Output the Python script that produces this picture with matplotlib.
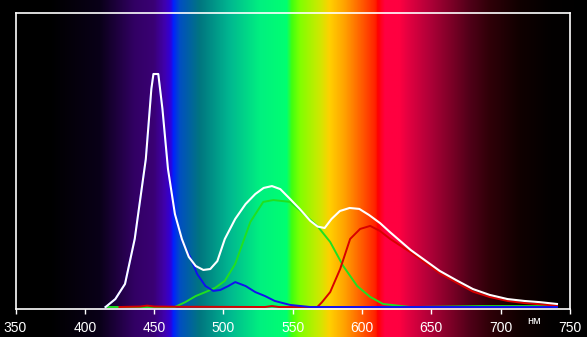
import numpy as np
import matplotlib
matplotlib.use("Agg")
import matplotlib.pyplot as plt
from matplotlib.colors import LinearSegmentedColormap

# spectrum: wavelength (nm) -> relative intensity
white_nm = [415, 422, 429, 436, 444, 448, 449.5, 453, 456, 460, 465, 470, 475, 480,
            485.5, 490.5, 495.6, 501, 508.5, 516, 523, 529, 535, 541, 548, 555,
            562.6, 568, 573, 578, 584, 591, 598, 605, 613, 620, 635, 649, 656,
            668, 680, 692, 705, 717, 728, 740.6]
white_val = [0, 0.034, 0.099, 0.292, 0.635, 0.936, 1.0, 1.0, 0.850, 0.592, 0.399,
             0.292, 0.215, 0.176, 0.159, 0.163, 0.197, 0.292, 0.378, 0.442, 0.485,
             0.511, 0.519, 0.506, 0.464, 0.421, 0.370, 0.345, 0.339, 0.378, 0.412,
             0.425, 0.421, 0.395, 0.360, 0.322, 0.245, 0.185, 0.155, 0.115, 0.077,
             0.052, 0.034, 0.026, 0.021, 0.013]

blue_nm = [415, 422, 429, 436, 444, 448, 449.5, 453, 456, 460, 465, 470, 476, 481,
           487, 492.7, 497.7, 503.5, 508.5, 516, 523, 530, 537, 548, 562.6, 740.6]
blue_val = [0, 0.034, 0.099, 0.292, 0.635, 0.936, 1.0, 1.0, 0.850, 0.592, 0.399,
            0.285, 0.215, 0.142, 0.090, 0.069, 0.073, 0.090, 0.107, 0.090, 0.064,
            0.047, 0.026, 0.009, 0, 0]

green_nm = [415, 465, 472.5, 480, 487, 494, 501, 508.5, 519.4, 528.7, 536, 548.2,
            567.7, 577, 586.4, 596.5, 605.9, 615.2, 634.7, 640, 685, 740.6]
green_val = [0, 0, 0.021, 0.047, 0.064, 0.082, 0.112, 0.185, 0.365, 0.451, 0.459,
             0.451, 0.348, 0.279, 0.176, 0.090, 0.043, 0.013, 0, 0, 0.004, 0.004]

red_nm = [425, 440, 445, 450, 470, 530, 535, 540, 567.7, 571, 577, 584.2, 591.4,
          598.6, 605.9, 613, 620.3, 634.7, 649, 656, 668, 680, 692, 705, 717, 728,
          740.6]
red_val = [0, 0.002, 0.006, 0.002, 0.001, 0, 0.004, 0, 0, 0.02, 0.064, 0.163,
           0.292, 0.335, 0.348, 0.326, 0.292, 0.236, 0.175, 0.145, 0.105, 0.066,
           0.043, 0.026, 0.017, 0.012, 0.006]

ticks = [350, 400, 450, 500, 550, 600, 650, 700, 750]

# background rainbow: (nm, colour)
bg_stops = [(339.2, "#000000"), (375, "#000000"), (411, "#0a0018"), (436, "#320064"),
            (450, "#3a0074"), (458, "#4000b0"), (462, "#3000d8"), (464, "#0020ff"),
            (469, "#0050c0"), (483, "#007580"), (505, "#00b890"), (526.6, "#00f080"),
            (546, "#00ff70"), (549.6, "#40ff10"), (555.4, "#80ff00"), (570, "#d0e800"),
            (577, "#ffd000"), (588, "#ffa000"), (602, "#ff5000"), (610, "#ff2000"),
            (611.6, "#ff0000"), (616.7, "#ff0040"), (627, "#ff0040"), (634.7, "#e00040"),
            (649, "#b00038"), (663.5, "#800028"), (678, "#500018"), (692, "#300008"),
            (714, "#100000"), (736, "#030000"), (762.3, "#000000")]

W, H = 587, 337
fig = plt.figure(figsize=(W / 100, H / 100), dpi=100)
fig.patch.set_facecolor("black")

lo, hi = bg_stops[0][0], bg_stops[-1][0]
cmap = LinearSegmentedColormap.from_list(
    "spec", [((n - lo) / (hi - lo), c) for n, c in bg_stops], N=1024)
bg = fig.add_axes([0, 0, 1, 1])
bg.imshow(np.linspace(0, 1, 1200)[None, :], cmap=cmap, aspect="auto",
          extent=[lo, hi, 0, 1], interpolation="bilinear")
bg.axis("off")

ax = fig.add_axes([15.5 / W, 1 - 309 / H, (570 - 15.5) / W, (309 - 12.5) / H])
ax.set_facecolor("none")
ax.plot(green_nm, green_val, color="#20e020", lw=1.4)
ax.plot(red_nm, red_val, color="#d80000", lw=1.4)
ax.plot(blue_nm, blue_val, color="#1010f0", lw=1.4)
ax.plot(white_nm, white_val, color="white", lw=1.5)

ax.set_xlim(350, 750)
ax.set_ylim(-2 / 233, 294.5 / 233)
ax.set_xticks(ticks)
ax.set_yticks([])
for s in ax.spines.values():
    s.set_color("white")
    s.set_linewidth(1.2)
ax.tick_params(axis="x", colors="white", length=3.5, width=1, pad=5, labelsize=10)
for lab in ax.get_xticklabels():
    lab.set_fontfamily("Liberation Sans")

fig.text(534 / W, 1 - 320.5 / H, "нм", color="white", fontsize=8,
         ha="center", va="center", family="Liberation Sans")

fig.savefig("out.png", dpi=100, facecolor="black")
